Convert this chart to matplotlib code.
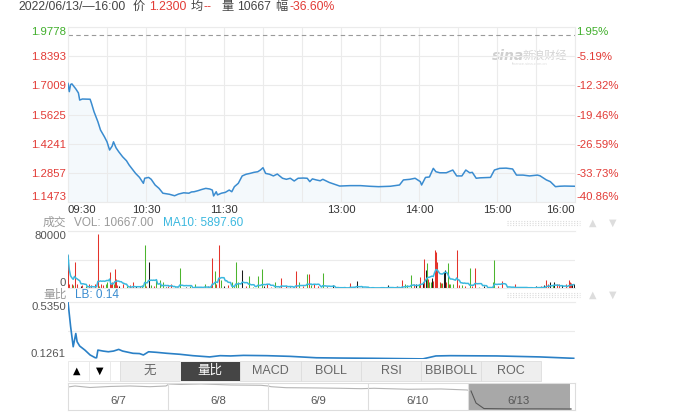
import numpy as np
import pandas as pd
import matplotlib.pyplot as plt
from matplotlib.patches import Rectangle

plt.rcParams['font.family'] = ['Liberation Sans', 'Noto Sans CJK SC', 'DejaVu Sans']

W, H = 680, 417

# ---------------- data ----------------
prev_close = 1.94
price_ticks = [1.1473, 1.2857, 1.4241, 1.5625, 1.7009, 1.8393, 1.9778]
time_ticks = [0, 60, 120, 210, 270, 330, 390]
time_labels = ['09:30', '10:30', '11:30', '13:00', '14:00', '15:00', '16:00']

# minutes after 09:30 and last price
price_min = [0, 1, 2, 3, 6, 8, 9, 11, 17, 18, 20, 23, 25, 28, 30, 32, 34, 35, 37, 39,
             42, 45, 47, 50, 52, 55, 58, 59, 62, 64, 67, 70, 73, 78, 82, 85, 89, 93, 95, 97,
             100, 103, 106, 109, 111, 112, 114, 115, 118, 121, 124, 126, 128, 131, 134, 137,
             140, 143, 146, 148, 150, 152, 155, 158, 161, 165, 168, 171, 174, 177, 181, 184,
             186, 188, 191, 194, 196, 201, 209, 217, 225, 232, 239, 248, 255, 258, 263, 267,
             271, 272, 275, 278, 281, 283, 286, 291, 296, 299, 303, 306, 309, 311, 314, 317,
             325, 328, 332, 337, 342, 345, 350, 355, 361, 363, 368, 371, 375, 378, 382, 390]
price_val = [1.710, 1.671, 1.705, 1.708, 1.684, 1.665, 1.631, 1.636, 1.635, 1.617, 1.576,
             1.528, 1.489, 1.457, 1.433, 1.394, 1.413, 1.433, 1.404, 1.386, 1.362, 1.343,
             1.323, 1.299, 1.283, 1.264, 1.236, 1.260, 1.264, 1.255, 1.228, 1.212, 1.189,
             1.184, 1.177, 1.185, 1.191, 1.189, 1.195, 1.196, 1.201, 1.207, 1.212, 1.209,
             1.204, 1.176, 1.196, 1.181, 1.189, 1.193, 1.204, 1.196, 1.220, 1.236, 1.271,
             1.279, 1.283, 1.288, 1.291, 1.299, 1.310, 1.283, 1.279, 1.271, 1.280, 1.260,
             1.255, 1.260, 1.247, 1.260, 1.261, 1.260, 1.244, 1.257, 1.252, 1.248, 1.255,
             1.240, 1.223, 1.225, 1.225, 1.222, 1.220, 1.222, 1.228, 1.252, 1.255, 1.260,
             1.244, 1.228, 1.264, 1.266, 1.307, 1.291, 1.286, 1.286, 1.299, 1.271, 1.271,
             1.299, 1.286, 1.288, 1.260, 1.262, 1.264, 1.299, 1.307, 1.308, 1.304, 1.275,
             1.275, 1.271, 1.275, 1.272, 1.252, 1.244, 1.220, 1.222, 1.223, 1.222]

# tall volume bars (r = up, g = down, k = flat)
big_min = [0, 5, 23, 30, 32, 34, 36, 37, 50, 59, 62, 68, 71, 73, 79, 86, 98, 105, 111, 113,
           116, 118, 126, 129, 131, 134, 139, 146, 149, 153, 159, 164, 175, 178, 184, 185,
           189, 196, 204, 217, 222, 246, 257, 259, 264, 268, 271, 274, 275, 276, 279, 280,
           282, 283, 284, 287, 289, 290, 292, 294, 299, 303, 309, 313, 320, 327, 328, 334,
           344, 360, 368, 371, 374, 378, 385, 386, 389]
big_val = [46000, 36500, 76000, 8000, 22500, 9000, 27000, 12000, 8000, 60000, 36500, 11000,
           11000, 9000, 6000, 28500, 5000, 6000, 42000, 23400, 60000, 11000, 8000, 36500,
           9000, 24800, 16400, 17000, 27000, 6000, 9000, 14500, 23400, 9000, 20000, 20000,
           6000, 21000, 4000, 7000, 9400, 4000, 10700, 5000, 18700, 6000, 15400, 41000,
           24800, 35000, 8000, 14000, 54000, 50500, 37000, 7000, 22400, 25700, 35500, 6000,
           53700, 4000, 28500, 28000, 3000, 9000, 38800, 9400, 5000, 3000, 10700, 8000,
           8000, 5000, 11700, 8000, 6000]
big_dir = ['r', 'r', 'r', 'g', 'r', 'r', 'r', 'r', 'r', 'g', 'k', 'g', 'g', 'g', 'r', 'g',
           'g', 'g', 'r', 'g', 'r', 'g', 'g', 'g', 'g', 'k', 'g', 'g', 'g', 'r', 'g', 'r',
           'r', 'g', 'g', 'r', 'r', 'g', 'k', 'r', 'k', 'k', 'r', 'g', 'g', 'k', 'r', 'r',
           'k', 'g', 'g', 'k', 'r', 'r', 'r', 'g', 'k', 'k', 'g', 'g', 'r', 'g', 'g', 'r',
           'k', 'g', 'g', 'r', 'r', 'k', 'r', 'k', 'k', 'r', 'r', 'r', 'k']

# short volume bars near the baseline
small_min = [1, 3, 4, 7, 10, 11, 14, 16, 18, 21, 24, 25, 27, 29, 33, 35, 38, 39, 42, 45, 48,
             52, 55, 57, 60, 64, 66, 75, 77, 82, 84, 91, 94, 101, 108, 110, 114, 120, 123,
             128, 137, 142, 151, 156, 162, 168, 171, 181, 187, 192, 199, 213, 220, 226, 234,
             241, 253, 261, 266, 270, 273, 277, 278, 281, 286, 288, 291, 293, 296, 301, 305,
             311, 316, 324, 331, 338, 348, 354, 364, 366, 369, 373, 376, 380, 383, 387, 388]
small_val = [5000, 6000, 4000, 5000, 3000, 4000, 3000, 5000, 4000, 5000, 3000, 6000, 4000,
             5000, 6000, 5000, 4000, 3000, 5000, 3000, 4000, 3000, 3000, 4000, 3000, 4000,
             3000, 2000, 3000, 2000, 2000, 2000, 3000, 2000, 3000, 4000, 5000, 3000, 4000,
             3000, 3000, 2000, 3000, 2000, 2000, 3000, 2000, 3000, 4000, 3000, 2000, 2000,
             2000, 2000, 2000, 2000, 3000, 4000, 5000, 6000, 8000, 12000, 9000, 10000, 8000,
             7000, 9000, 6000, 5000, 4000, 3000, 3000, 2000, 2000, 3000, 2000, 2000, 2000,
             3000, 4000, 5000, 4000, 5000, 4000, 6000, 7000, 5000]
small_dir = ['r', 'r', 'g', 'r', 'k', 'r', 'g', 'r', 'r', 'r', 'g', 'r', 'r', 'g', 'r', 'g',
             'r', 'k', 'r', 'g', 'r', 'k', 'r', 'g', 'r', 'g', 'r', 'k', 'r', 'g', 'r', 'k',
             'g', 'r', 'r', 'g', 'r', 'k', 'r', 'g', 'r', 'g', 'k', 'r', 'g', 'r', 'k', 'r',
             'g', 'r', 'k', 'r', 'g', 'k', 'r', 'g', 'r', 'g', 'r', 'g', 'k', 'r', 'g', 'r',
             'r', 'r', 'r', 'r', 'g', 'r', 'r', 'r', 'g', 'k', 'r', 'g', 'r', 'k', 'r', 'k',
             'r', 'g', 'r', 'k', 'r', 'r', 'k']

# 量比 (LB)
lb_min = [0, 2, 4, 6, 7, 9, 13, 17, 21, 22, 23, 27, 31, 35, 39, 42, 50, 55, 58, 62, 68, 76,
          86, 96, 109, 117, 125, 135, 153, 171, 191, 209, 235, 273, 283, 294, 330, 363, 389]
lb_val = [0.535, 0.36, 0.214, 0.309, 0.250, 0.219, 0.190, 0.155, 0.135, 0.135, 0.190, 0.183,
          0.178, 0.183, 0.195, 0.183, 0.167, 0.165, 0.155, 0.178, 0.174, 0.167, 0.160, 0.150,
          0.141, 0.150, 0.148, 0.152, 0.150, 0.145, 0.135, 0.133, 0.131, 0.127, 0.148, 0.150,
          0.148, 0.141, 0.131]
lb_ticks = [0.1261, 0.33055, 0.5350]

# 5-day navigator
nav_days = ['6/7', '6/8', '6/9', '6/10', '6/13']
nav_x = [0.0, 0.07, 0.22, 0.42, 0.62, 0.82, 0.98, 1.01, 1.13, 1.33, 1.63, 1.93, 2.0, 2.03,
         2.18, 2.5, 2.73, 2.93, 3.06, 3.4, 3.73, 3.99, 4.03, 4.08, 4.16, 4.4, 4.7, 5.03]
nav_val = [1.94, 1.975, 1.922, 1.958, 1.975, 1.95, 1.975, 2.046, 2.028, 2.046, 2.01, 2.0,
           1.975, 1.95, 1.915, 1.905, 1.894, 1.88, 1.894, 1.86, 1.87, 1.834, 1.80, 1.377,
           1.18, 1.17, 1.17, 1.165]

buttons = ['无', '量比', 'MACD', 'BOLL', 'RSI', 'BBIBOLL', 'ROC']
active_button = '量比'

RED = '#e23b36'
GREEN = '#3fae2a'
GRID = '#ebebeb'
bar_colors = {'r': '#e4332b', 'g': '#4cb52e', 'k': '#1a1a1a'}

fig = plt.figure(figsize=(W / 100, H / 100), dpi=100)


def px_axes(l, t, r, b, **kw):
    return fig.add_axes([l / W, 1 - b / H, (r - l) / W, (b - t) / H], **kw)


# background axes in pixel coordinates for the page chrome
bg = fig.add_axes([0, 0, 1, 1])
bg.set_xlim(0, W)
bg.set_ylim(H, 0)
bg.axis('off')

L, R = 68, 575

# ---------------- price panel ----------------
ax = px_axes(L, 27, R, 202)
ax.set_facecolor('none')
ax.plot(price_min, price_val, color='#3a8cd0', lw=1.1, zorder=3)
ax.fill_between(price_min, price_val, price_ticks[0], color='#3a8cd0', alpha=0.05, lw=0)
ax.axhline(prev_close, color='#9a9a9a', lw=0.8, ls=(0, (4, 3)), zorder=2)
ax.set_xlim(0, 390)
ax.set_ylim(price_ticks[0], price_ticks[-1])
ax.set_yticks(price_ticks)
ax.set_yticklabels(['%.4f' % p for p in price_ticks], fontsize=8.2)
ax.set_xticks(np.arange(0, 391, 30), minor=True)
ax.set_xticks(time_ticks)
ax.set_xticklabels(time_labels, fontsize=8.2, color='#333333')
ax.grid(True, which='both', color=GRID, lw=0.8)
ax.tick_params(which='both', length=0)
ax.tick_params(axis='y', pad=1.5)
ax.tick_params(axis='x', pad=2.5)
for s in ax.spines.values():
    s.set_color(GRID)
ylabs = ax.get_yticklabels()
for i, lab in enumerate(ylabs):
    lab.set_color(GREEN if price_ticks[i] > prev_close else RED)
ylabs[0].set_va('bottom')
ylabs[-1].set_va('top')
xlabs = ax.get_xticklabels()
xlabs[0].set_ha('left')
xlabs[-1].set_ha('right')

axr = ax.twinx()
axr.set_ylim(ax.get_ylim())
axr.set_yticks(price_ticks)
axr.set_yticklabels(['%.2f%%' % ((p / prev_close - 1) * 100) for p in price_ticks], fontsize=8.2)
axr.tick_params(length=0, pad=1)
for s in axr.spines.values():
    s.set_visible(False)
rlabs = axr.get_yticklabels()
for i, lab in enumerate(rlabs):
    lab.set_color(GREEN if price_ticks[i] > prev_close else RED)
rlabs[0].set_va('bottom')
rlabs[-1].set_va('top')

# watermark
bg.text(508, 56, 'sina', fontsize=10, color='#d0d0d0', style='italic', weight='bold',
        ha='center', va='center', family='DejaVu Sans')
bg.text(545, 55, '新浪财经', fontsize=8, color='#d4d4d4', style='italic', ha='center', va='center')
bg.text(530, 64, 'finance.sina.com.cn', fontsize=3, color='#dddddd', ha='center', va='center')

# header
header = [(18, '2022/06/13/—16:00', '#444444'), (133, '价', '#444444'), (149, '1.2300', RED),
          (191, '均', '#444444'), (204, '--', RED), (221, '量', '#444444'),
          (237, '10667', '#444444'), (275, '幅', '#444444'), (289, '-36.60%', RED)]
for x, s, c in header:
    bg.text(x, 7, s, fontsize=8.8, color=c, ha='left', va='center')

# ---------------- volume panel ----------------
axv = px_axes(L, 231, R, 288)
axv.set_facecolor('none')
vm = np.array(small_min + big_min)
vv = np.array(small_val + big_val)
vd = small_dir + big_dir
axv.vlines(vm, 0, vv, colors=[bar_colors[d] for d in vd], lw=0.75, zorder=2)
full = np.zeros(390)
np.add.at(full, vm, vv)
ma10 = pd.Series(full).rolling(10, min_periods=1).mean()
axv.plot(np.arange(390), ma10, color='#3bb8df', lw=1.1, zorder=3)
axv.set_xlim(0, 390)
axv.set_ylim(0, 80000)
axv.set_yticks([0, 40000, 80000])
axv.set_yticklabels(['0', '', '80000'], fontsize=8.2, color='#555555')
axv.set_xticks([])
axv.grid(True, axis='y', color=GRID, lw=0.8)
axv.tick_params(length=0, pad=1.5)
for k, s in axv.spines.items():
    s.set_visible(k in ('top', 'bottom'))
    s.set_color(GRID)
vl = axv.get_yticklabels()
vl[0].set_va('bottom')
vl[-1].set_va('top')

bg.text(43, 223, '成交', fontsize=8.5, color='#999999', ha='left', va='center')
bg.text(74, 223, 'VOL: 10667.00', fontsize=8.5, color='#999999', ha='left', va='center')
bg.text(163, 223, 'MA10: 5897.60', fontsize=8.5, color='#3bb8df', ha='left', va='center')

# ---------------- LB panel ----------------
axl = px_axes(L, 302, R, 359)
axl.set_facecolor('none')
axl.plot(lb_min, lb_val, color='#2a80c6', lw=1.2, zorder=3)
axl.set_xlim(0, 390)
axl.set_ylim(lb_ticks[0], lb_ticks[-1])
axl.set_yticks(lb_ticks)
axl.set_yticklabels(['0.1261', '', '0.5350'], fontsize=8.2, color='#555555')
axl.set_xticks([])
axl.grid(True, axis='y', color=GRID, lw=0.8)
axl.tick_params(length=0, pad=1.5)
for k, s in axl.spines.items():
    s.set_visible(k == 'top')
    s.set_color(GRID)
ll = axl.get_yticklabels()
ll[0].set_va('bottom')
ll[-1].set_va('top')

bg.text(43, 295, '量比', fontsize=8.5, color='#999999', ha='left', va='center')
bg.text(75, 295, 'LB: 0.14', fontsize=8.5, color='#3a8cd0', ha='left', va='center')

# right-side scroll widgets
for yy in (223, 295):
    for dy in (-2, 0, 2):
        bg.plot([507, 580], [yy + dy, yy + dy], color='#dcdcdc', lw=0.8, ls=(0, (1, 1.5)))
    bg.text(593, yy, '▲', fontsize=7, color='#dddddd', ha='center', va='center',
            family='DejaVu Sans')
    bg.text(613, yy, '▼', fontsize=7, color='#dddddd', ha='center', va='center',
            family='DejaVu Sans')

# ---------------- buttons ----------------
bg.add_patch(Rectangle((L, 361), 52, 20, facecolor='white', edgecolor='#e6e6e6', lw=0.6))
bg.plot([89, 89], [362, 380], color='#e6e6e6', lw=0.6)
bg.plot([110, 110], [362, 380], color='#e6e6e6', lw=0.6)
bg.text(77, 371, '▲', fontsize=7, color='black', ha='center', va='center', family='DejaVu Sans')
bg.text(100, 371, '▼', fontsize=7, color='black', ha='center', va='center', family='DejaVu Sans')
bw = 60.2
for i, b in enumerate(buttons):
    x0 = 120 + i * bw
    on = b == active_button
    bg.add_patch(Rectangle((x0, 361), bw, 20, facecolor='#454545' if on else '#eeeeee',
                           edgecolor='white' if on else '#dddddd', lw=0.6))
    bg.text(x0 + bw / 2, 371, b, fontsize=9, color='white' if on else '#666666',
            ha='center', va='center')

# ---------------- navigator ----------------
axn = px_axes(L, 383, R, 410)
axn.set_xlim(0, 5.07)
axn.set_ylim(1.13, 2.08)
axn.axvspan(4.0, 5.02, color='#a8a8a8', lw=0)
nx = np.array(nav_x)
nv = np.array(nav_val)
axn.plot(nx, nv, color='#b5b5b5', lw=0.8)
axn.plot(nx[nx >= 4.0], nv[nx >= 4.0], color='#555555', lw=0.8)
for d in range(1, 5):
    axn.axvline(d, color='#dddddd', lw=0.8)
for i, d in enumerate(nav_days):
    axn.text(i + 0.5, 0.33, d, fontsize=8.2, color='#555555', ha='center', va='center',
             transform=axn.get_xaxis_transform())
axn.set_xticks([])
axn.set_yticks([])
for s in axn.spines.values():
    s.set_color('#dddddd')
bg.plot([L, R], [383.5, 383.5], color='#333333', lw=2, solid_capstyle='butt')
for hx in (467, 568):
    bg.add_patch(Rectangle((hx, 384.5), 5.5, 25, facecolor='white', edgecolor='#8a8a8a',
                           lw=0.7, zorder=5))

fig.savefig('out.png', dpi=100)
